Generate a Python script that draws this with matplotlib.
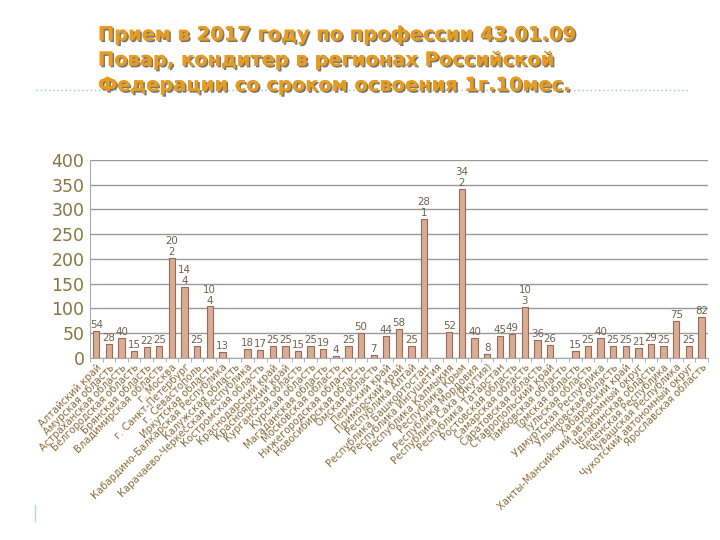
import numpy as np
import matplotlib.pyplot as plt
import matplotlib.patheffects as pe
from matplotlib.lines import Line2D

regions = ["Алтайский край", "Амурская область", "Астраханская область",
           "Белгородская область", "Брянская область", "Владимирская область",
           "г. Москва", "г. Санкт-Петербург", "г. Севастополь", "Иркутская область",
           "Кабардино-Балкарская Республика", "Калужская область",
           "Карачаево-Черкесская Республика", "Костромская область",
           "Краснодарский край", "Красноярский край", "Курганская область",
           "Курская область", "Магаданская область", "Московская область",
           "Нижегородская область", "Новосибирская область", "Омская область",
           "Пермский край", "Приморский край", "Республика Алтай",
           "Республика Башкортостан", "Республика Ингушетия", "Республика Калмыкия",
           "Республика Крым", "Республика Мордовия", "Республика Саха (Якутия)",
           "Республика Татарстан", "Ростовская область", "Самарская область",
           "Саратовская область", "Ставропольский край", "Тамбовская область",
           "Томская область", "Тульская область", "Удмуртская Республика",
           "Ульяновская область", "Хабаровский край",
           "Ханты-Мансийский автономный округ", "Челябинская область",
           "Чеченская Республика", "Чувашская Республика",
           "Чукотский автономный округ", "Ярославская область"]
values = [54, 28, 40, 15, 22, 25, 202, 144, 25, 104, 13, 0, 18, 17, 25, 25, 15, 25,
          19, 4, 25, 50, 7, 44, 58, 25, 281, 0, 52, 342, 40, 8, 45, 49, 103, 36, 26,
          0, 15, 25, 40, 25, 25, 21, 29, 25, 75, 25, 82]
yticks = [0, 50, 100, 150, 200, 250, 300, 350, 400]

title = ("Прием в 2017 году по профессии 43.01.09\n"
         "Повар, кондитер в регионах Российской\n"
         "Федерации со сроком освоения 1г.10мес.")

fig = plt.figure(figsize=(7.2, 5.4), dpi=100)
ax = fig.add_axes([0.125, 0.337, 0.858, 0.367])

x = np.arange(len(values))
ax.bar(x, values, width=0.5, color="#d9ac94", edgecolor="#9a6a58", linewidth=0.8, zorder=3)

for xi, v in zip(x, values):
    if v == 0:
        continue
    s = str(v)
    if len(s) == 3:
        s = s[:2] + "\n" + s[2:]
    ax.text(xi, v + 2, s, ha="center", va="bottom", fontsize=7.4,
            color="#6e6250", linespacing=1.1, zorder=4)

ax.set_xlim(-0.5, len(values) - 0.5)
ax.set_ylim(0, 400)
ax.set_yticks(yticks)
ax.tick_params(axis="y", length=0, labelsize=12.5, labelcolor="#8a7444", pad=4)
ax.yaxis.grid(True, color="#999999", linewidth=1, zorder=0)
ax.set_axisbelow(True)

ax.set_xticks(x)
ax.set_xticklabels(regions, rotation=45, ha="right", rotation_mode="anchor",
                   fontsize=7.2, color="#8b6c3a")
ax.tick_params(axis="x", length=0, pad=3)
ax.set_xticks(np.arange(-0.5, len(values), 1), minor=True)
ax.tick_params(axis="x", which="minor", length=3, color="#a8a8a8")

for side in ["top", "right"]:
    ax.spines[side].set_visible(False)
ax.spines["left"].set_color("#a8a8a8")
ax.spines["bottom"].set_color("#a8a8a8")

# dotted line behind the title
fig.add_artist(Line2D([0.05, 0.955], [0.833, 0.833], transform=fig.transFigure,
                      color="#8fc6d6", linestyle=(0, (1, 2)), linewidth=1, zorder=0))
fig.add_artist(Line2D([0.049, 0.049], [0.035, 0.065], transform=fig.transFigure,
                      color="#b8d8e4", linewidth=1))

fig.text(0.136, 0.953, title, ha="left", va="top", fontsize=14, fontweight="bold",
         color="#e89c1e", linespacing=1.42, zorder=5,
         path_effects=[pe.withSimplePatchShadow(offset=(1.2, -1.2), shadow_rgbFace="#555555", alpha=0.8),
                       pe.Normal()])

fig.savefig("out.png", dpi=100)
